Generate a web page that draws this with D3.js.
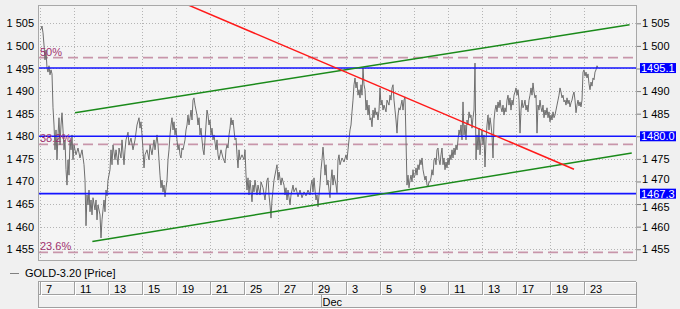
<!DOCTYPE html>
<html>
<head>
<meta charset="utf-8">
<script src="https://cdn.jsdelivr.net/npm/d3@7"></script>
<style>
  body { margin: 0; background: #f0f0f0; }
  svg { display: block; font-family: "Liberation Sans", Arial, sans-serif; }
</style>
</head>
<body>
<div id="chart"></div>
<script>
// GOLD-3.20 price, [bar number, price]; 17 bars per trading day, bar 0 = Nov 7
var goldBars = [
  [0,1503.5],[1,1503.7],[2,1504.4],[3,1502.9],[4,1500.2],[5,1496.9],[6,1499.1],[7,1495.1],[8,1494.2],[9,1495.6],
  [10,1493.6],[11,1494.7],[12,1493.8],[13,1486.3],[14,1482.5],[15,1477.0],[16,1481.4],[17,1474.8],[18,1480.3],[19,1484.1],
  [20,1478.1],[21,1482.5],[22,1485.2],[23,1481.4],[24,1477.0],[25,1479.2],[26,1472.6],[27,1469.2],[28,1474.8],[29,1471.4],
  [30,1479.2],[31,1477.0],[32,1480.3],[33,1474.8],[34,1478.1],[36,1475.9],[38,1477.4],[40,1475.2],[42,1477.0],[44,1473.7],
  [45,1470.3],[46,1460.2],[47,1467.0],[48,1464.8],[49,1468.1],[50,1463.3],[51,1465.9],[52,1462.6],[53,1466.4],[55,1463.7],
  [56,1465.9],[57,1461.5],[58,1464.8],[60,1462.6],[61,1457.5],[62,1461.5],[63,1463.7],[64,1465.9],[65,1463.3],[66,1468.1],
  [67,1466.8],[68,1470.3],[70,1472.6],[71,1477.0],[72,1473.7],[73,1478.1],[75,1474.8],[76,1477.0],[78,1473.7],[79,1477.4],
  [81,1475.2],[82,1479.2],[84,1473.7],[85,1477.0],[86,1479.2],[88,1480.9],[89,1478.1],[91,1479.6],[93,1477.0],[95,1479.2],
  [97,1482.5],[99,1484.1],[100,1481.8],[101,1483.2],[102,1480.3],[103,1477.0],[104,1473.0],[105,1475.9],[107,1477.0],[109,1474.8],
  [110,1478.1],[112,1475.9],[114,1479.2],[115,1477.0],[117,1480.3],[118,1478.1],[119,1474.8],[120,1471.4],[121,1468.6],[122,1470.3],
  [123,1467.7],[124,1469.2],[125,1466.6],[126,1468.6],[127,1470.3],[128,1474.8],[129,1477.0],[130,1480.3],[131,1482.5],[132,1484.1],
  [133,1481.4],[134,1483.2],[135,1480.3],[136,1481.8],[137,1479.2],[138,1477.0],[139,1478.1],[140,1475.9],[141,1475.2],[142,1477.4],
  [143,1477.0],[145,1479.2],[146,1481.4],[147,1482.5],[148,1484.7],[149,1482.5],[150,1484.1],[151,1485.8],[152,1483.6],[153,1488.0],
  [154,1488.5],[155,1486.9],[156,1485.8],[157,1484.7],[158,1482.5],[159,1484.1],[160,1480.3],[161,1481.8],[162,1479.2],[163,1477.0],
  [164,1475.9],[165,1479.2],[166,1482.5],[167,1485.8],[168,1484.7],[169,1482.5],[170,1483.6],[171,1480.3],[172,1481.8],[173,1479.2],
  [174,1480.3],[176,1477.0],[177,1479.2],[178,1475.9],[179,1474.8],[181,1477.0],[183,1475.2],[185,1474.1],[186,1477.0],[187,1478.1],
  [188,1477.4],[189,1480.3],[190,1481.8],[191,1484.1],[192,1482.5],[193,1483.6],[194,1481.4],[195,1479.2],[196,1479.6],[197,1475.9],
  [198,1473.0],[199,1477.0],[200,1474.8],[202,1475.9],[204,1474.8],[205,1477.0],[206,1471.4],[207,1468.1],[208,1470.8],[209,1467.0],
  [210,1470.3],[211,1468.1],[212,1465.5],[213,1469.2],[214,1467.7],[215,1470.3],[217,1467.0],[218,1469.2],[220,1467.0],[221,1469.9],
  [223,1468.6],[225,1465.9],[226,1468.1],[227,1470.3],[228,1470.8],[229,1467.0],[230,1464.8],[231,1461.9],[232,1465.9],[233,1468.1],
  [234,1470.3],[236,1472.6],[237,1473.7],[238,1470.3],[239,1472.1],[241,1469.2],[242,1470.8],[244,1469.2],[245,1467.0],[246,1468.6],
  [247,1465.9],[248,1468.1],[250,1464.8],[251,1467.0],[253,1469.2],[254,1467.7],[256,1468.6],[258,1466.6],[260,1468.1],[262,1466.4],
  [264,1467.7],[266,1466.8],[268,1468.1],[270,1467.0],[271,1469.2],[272,1470.3],[273,1467.7],[274,1470.8],[275,1468.1],[276,1465.9],
  [277,1467.0],[278,1464.4],[279,1467.0],[280,1469.2],[281,1472.6],[282,1474.8],[283,1477.6],[284,1474.8],[285,1471.4],[286,1473.7],
  [287,1469.2],[288,1470.3],[289,1468.1],[290,1466.4],[291,1470.3],[292,1472.6],[293,1469.2],[294,1471.4],[296,1469.2],[297,1467.5],
  [298,1474.8],[299,1475.9],[300,1473.7],[302,1475.2],[304,1474.3],[306,1475.9],[307,1474.8],[308,1477.0],[309,1479.2],[310,1481.4],
  [311,1482.5],[312,1485.4],[313,1488.0],[314,1491.4],[315,1492.9],[316,1490.7],[317,1492.0],[318,1489.1],[319,1490.3],[320,1488.5],
  [321,1491.4],[322,1489.1],[323,1495.1],[324,1491.4],[325,1490.3],[326,1485.8],[327,1488.0],[328,1484.7],[329,1486.9],[330,1483.6],
  [331,1484.1],[332,1482.1],[333,1485.8],[334,1484.1],[335,1486.3],[336,1484.7],[337,1485.4],[338,1483.6],[339,1485.8],[340,1490.7],
  [341,1486.9],[342,1488.0],[343,1485.8],[344,1486.9],[346,1485.4],[347,1488.0],[349,1486.9],[350,1489.1],[351,1488.0],[352,1490.7],
  [353,1491.4],[354,1488.0],[355,1485.8],[356,1483.6],[357,1480.7],[358,1484.7],[359,1486.3],[360,1485.8],[361,1486.9],[362,1488.0],
  [363,1485.8],[364,1488.0],[365,1488.7],[366,1479.2],[367,1469.2],[368,1471.4],[369,1468.6],[370,1470.3],[371,1471.4],[372,1469.9],
  [373,1472.6],[374,1470.8],[375,1471.4],[376,1473.0],[377,1471.4],[378,1473.7],[379,1472.6],[380,1474.8],[381,1473.7],[382,1475.2],
  [383,1472.6],[384,1471.4],[385,1470.3],[386,1471.2],[387,1469.2],[388,1468.8],[389,1469.9],[390,1469.9],[391,1470.8],[392,1472.6],
  [393,1471.4],[394,1474.8],[395,1475.2],[396,1473.7],[397,1477.0],[398,1477.4],[399,1474.8],[400,1473.7],[401,1475.9],[402,1477.4],
  [403,1473.7],[404,1475.2],[405,1472.6],[406,1474.3],[407,1473.0],[408,1475.2],[409,1473.7],[410,1475.9],[411,1474.8],[412,1477.0],
  [413,1475.2],[414,1477.4],[415,1475.9],[416,1478.1],[417,1477.0],[418,1479.2],[419,1481.4],[420,1480.3],[421,1482.5],[422,1479.2],
  [423,1487.6],[424,1480.3],[425,1482.5],[426,1479.2],[427,1483.6],[428,1482.5],[429,1485.4],[430,1484.1],[431,1484.7],[432,1481.8],
  [433,1484.1],[434,1485.8],[435,1496.2],[436,1474.8],[437,1480.3],[438,1477.0],[439,1481.8],[440,1475.9],[441,1479.2],[442,1481.4],
  [443,1478.1],[444,1480.3],[445,1473.2],[446,1479.2],[447,1482.5],[448,1484.7],[449,1481.4],[450,1484.1],[451,1482.5],[452,1480.3],
  [453,1475.2],[454,1483.6],[455,1485.8],[456,1486.9],[457,1485.4],[458,1487.6],[459,1486.3],[460,1488.0],[461,1486.3],[462,1485.4],
  [463,1486.9],[464,1484.7],[465,1486.3],[466,1485.4],[467,1488.0],[468,1489.1],[469,1486.9],[470,1488.5],[471,1485.8],[472,1488.0],
  [473,1486.9],[474,1489.1],[475,1489.8],[476,1490.7],[477,1489.1],[478,1490.3],[479,1488.0],[480,1480.7],[481,1485.8],[482,1488.0],
  [483,1486.3],[484,1486.9],[485,1488.0],[486,1485.8],[487,1486.9],[488,1485.4],[489,1488.0],[490,1489.1],[491,1490.7],[492,1489.1],
  [493,1491.8],[494,1489.8],[495,1488.5],[496,1489.1],[497,1480.7],[498,1486.9],[499,1485.8],[500,1488.0],[501,1486.3],[502,1485.4],
  [503,1486.9],[504,1484.1],[505,1485.8],[506,1484.7],[507,1486.3],[508,1484.1],[509,1485.4],[510,1483.2],[511,1484.7],[512,1483.6],
  [513,1485.4],[514,1484.1],[515,1484.7],[516,1485.8],[517,1486.9],[518,1488.0],[519,1489.1],[520,1490.7],[521,1489.8],[522,1488.5],
  [523,1489.1],[524,1487.6],[525,1488.0],[526,1486.9],[527,1488.5],[528,1487.2],[529,1488.0],[530,1486.5],[531,1487.4],[532,1488.0],
  [533,1489.1],[534,1489.8],[535,1488.0],[536,1485.2],[537,1486.9],[538,1488.0],[539,1486.7],[540,1487.6],[541,1486.5],[542,1488.0],
  [543,1494.2],[544,1494.7],[545,1493.3],[546,1494.2],[547,1492.9],[548,1493.8],[549,1491.6],[550,1490.3],[551,1492.0],[552,1491.1],
  [553,1492.9],[554,1492.5],[555,1494.2],[556,1494.7],[557,1495.6],[558,1495.1]
];
var barsPerDay = 17;

// date axis (trading day index from Nov 7)
var dayLabels = ["7", "11", "13", "15", "19", "21", "25", "27", "29", "3", "5", "9", "11", "13", "17", "19", "23"];
var dayIndex = [0, 2, 4, 6, 8, 10, 12, 14, 16, 18, 20, 22, 24, 26, 28, 30, 32];
var monthLabels = ["Dec"];
var monthIndex = [17];

var priceTicks = [1455, 1460, 1465, 1470, 1475, 1480, 1485, 1490, 1495, 1500, 1505];

// horizontal levels (blue) and fibonacci levels (dashed)
var levels = [1495.1, 1480.0, 1467.3];
var fibValues = [1497.4, 1478.2, 1454.3];
var fibNames = ["50%", "38.2%", "23.6%"];

// trend lines, [day, price]
var greenUpper = [[2.06, 1485.2], [34.68, 1504.7]];
var greenLower = [[3.08, 1456.7], [34.81, 1476.3]];
var redDown = [[8.0, 1510.2], [31.41, 1472.7]];

var W = 680, H = 309;
var plot = { left: 38, right: 637, top: 5, bottom: 261 };

var svg = d3.select("#chart").append("svg")
    .attr("width", W)
    .attr("height", H)
    .style("background", "#f0f0f0");

var x = d3.scaleLinear().domain([0, 32]).range([40, 584]);
var y = d3.scaleLinear().domain([1452.4, 1509.05]).range([plot.bottom, plot.top]);

svg.append("defs").append("clipPath").attr("id", "clip")
  .append("rect")
    .attr("x", plot.left).attr("y", plot.top)
    .attr("width", plot.right - plot.left).attr("height", plot.bottom - plot.top);

// plot background
svg.append("rect")
    .attr("x", plot.left).attr("y", plot.top)
    .attr("width", plot.right - plot.left).attr("height", plot.bottom - plot.top)
    .attr("fill", "#f4f4f4");

// grid
var grid = svg.append("g").attr("stroke", "#b4b4b4").attr("stroke-dasharray", "1,2");
grid.selectAll("line.h").data(priceTicks).enter().append("line")
    .attr("x1", plot.left).attr("x2", plot.right)
    .attr("y1", d => Math.round(y(d)) + 0.5).attr("y2", d => Math.round(y(d)) + 0.5);
grid.selectAll("line.v").data(dayIndex).enter().append("line")
    .attr("x1", d => Math.round(x(d)) + 0.5).attr("x2", d => Math.round(x(d)) + 0.5)
    .attr("y1", plot.top).attr("y2", plot.bottom);

var g = svg.append("g").attr("clip-path", "url(#clip)");

// fibonacci dashed levels
g.selectAll("line.fib").data(fibValues).enter().append("line")
    .attr("x1", plot.left).attr("x2", plot.right)
    .attr("y1", d => y(d)).attr("y2", d => y(d))
    .attr("stroke", "#c896aa").attr("stroke-width", 1.6)
    .attr("stroke-dasharray", "10,5");

// price line
var line = d3.line()
    .x(d => x(d[0] / barsPerDay))
    .y(d => y(d[1]));
g.append("path")
    .datum(goldBars)
    .attr("d", line)
    .attr("fill", "none")
    .attr("stroke", "#6e6e6e")
    .attr("stroke-width", 1);

// blue levels
g.selectAll("line.lvl").data(levels).enter().append("line")
    .attr("x1", plot.left).attr("x2", plot.right)
    .attr("y1", d => y(d)).attr("y2", d => y(d))
    .attr("stroke", "#1414ff").attr("stroke-width", 1.6);

// trend lines
var tl = d3.line().x(d => x(d[0])).y(d => y(d[1]));
[[greenUpper, "#1a8a1a"], [greenLower, "#1a8a1a"], [redDown, "#ff1a1a"]].forEach(function (t) {
  g.append("path").datum(t[0]).attr("d", tl)
      .attr("fill", "none").attr("stroke", t[1]).attr("stroke-width", 1.5);
});

// fib labels
svg.selectAll("text.fib").data(fibValues).enter().append("text")
    .attr("x", 40).attr("y", d => y(d) - 2)
    .attr("fill", "#a0306e").attr("font-size", 11)
    .text((d, i) => fibNames[i]);

// border
svg.append("rect")
    .attr("x", plot.left + 0.5).attr("y", plot.top + 0.5)
    .attr("width", plot.right - plot.left - 1).attr("height", plot.bottom - plot.top - 1)
    .attr("fill", "none").attr("stroke", "#a8a8a8");

var fmt = d3.formatLocale({ decimal: ".", thousands: " ", grouping: [3], currency: ["", ""] }).format(",");

// left axis
var left = svg.append("g")
    .attr("transform", `translate(${plot.left},0)`)
    .call(d3.axisLeft(y).tickValues(priceTicks).tickFormat(fmt).tickSize(0).tickPadding(4));
left.select(".domain").remove();
left.selectAll("text").attr("font-size", 11).attr("fill", "#000").style("font-family", "Liberation Sans, Arial, sans-serif");

// right axis; labels hidden under a level box are dropped, near ones nudged clear
var right = svg.append("g")
    .attr("transform", `translate(${plot.right},0)`)
    .call(d3.axisRight(y).tickValues(priceTicks).tickFormat(fmt).tickSize(4).tickPadding(1));
right.select(".domain").remove();
right.selectAll("line").attr("stroke", "#808080");
right.selectAll("text").attr("font-size", 11).attr("fill", "#000").style("font-family", "Liberation Sans, Arial, sans-serif");
right.selectAll(".tick").filter(d => levels.some(l => Math.abs(y(l) - y(d)) < 8)).select("text").remove();
right.selectAll(".tick").each(function (d) {
  var near = levels.find(l => Math.abs(y(l) - y(d)) >= 8 && Math.abs(y(l) - y(d)) < 13);
  if (near !== undefined) {
    d3.select(this).select("text").attr("y", y(d) > y(near) ? 2.5 : -2.5);
  }
});

// level value boxes
var boxes = svg.selectAll("g.box").data(levels).enter().append("g")
    .attr("transform", d => `translate(640,${y(d)})`);
boxes.append("rect")
    .attr("x", 0).attr("y", -5).attr("width", 36).attr("height", 10)
    .attr("fill", "#0000ff");
boxes.append("text")
    .attr("x", 1).attr("y", 4)
    .attr("font-size", 11).attr("fill", "#fff")
    .text(d => d.toFixed(1));

// legend
svg.append("line")
    .attr("x1", 10).attr("x2", 19).attr("y1", 273.5).attr("y2", 273.5)
    .attr("stroke", "#808080").attr("stroke-width", 1);
svg.append("text")
    .attr("x", 25).attr("y", 277)
    .attr("font-size", 11).attr("fill", "#000")
    .text("GOLD-3.20 [Price]");

// date axis boxes
var ax = svg.append("g");
[282, 295, 308].forEach(function (yy) {
  ax.append("line").attr("x1", plot.left).attr("x2", 636)
      .attr("y1", yy - 0.5).attr("y2", yy - 0.5).attr("stroke", "#a0a0a0");
  ax.append("line").attr("x1", plot.left).attr("x2", 636)
      .attr("y1", yy + 0.5).attr("y2", yy + 0.5).attr("stroke", "#ffffff");
});
[plot.left, 636].forEach(function (xx) {
  ax.append("line").attr("x1", xx + 0.5).attr("x2", xx + 0.5)
      .attr("y1", 282).attr("y2", 308).attr("stroke", "#a0a0a0");
});
ax.selectAll("line.day").data(dayIndex).enter().append("line")
    .attr("x1", d => Math.round(x(d)) + 0.5).attr("x2", d => Math.round(x(d)) + 0.5)
    .attr("y1", 282).attr("y2", 295).attr("stroke", "#a0a0a0");
ax.selectAll("line.dayw").data(dayIndex).enter().append("line")
    .attr("x1", d => Math.round(x(d)) + 1.5).attr("x2", d => Math.round(x(d)) + 1.5)
    .attr("y1", 282).attr("y2", 295).attr("stroke", "#ffffff");
ax.selectAll("text.day").data(dayIndex).enter().append("text")
    .attr("x", d => x(d) + 6).attr("y", 293)
    .attr("font-size", 11).attr("fill", "#000")
    .text((d, i) => dayLabels[i]);
ax.selectAll("line.mon").data(monthIndex).enter().append("line")
    .attr("x1", d => Math.round(x(d - 0.5)) + 0.5).attr("x2", d => Math.round(x(d - 0.5)) + 0.5)
    .attr("y1", 295).attr("y2", 308).attr("stroke", "#a0a0a0");
ax.selectAll("text.mon").data(monthIndex).enter().append("text")
    .attr("x", d => x(d - 0.5) + 2).attr("y", 306)
    .attr("font-size", 11).attr("fill", "#000")
    .text((d, i) => monthLabels[i]);
</script>
</body>
</html>
